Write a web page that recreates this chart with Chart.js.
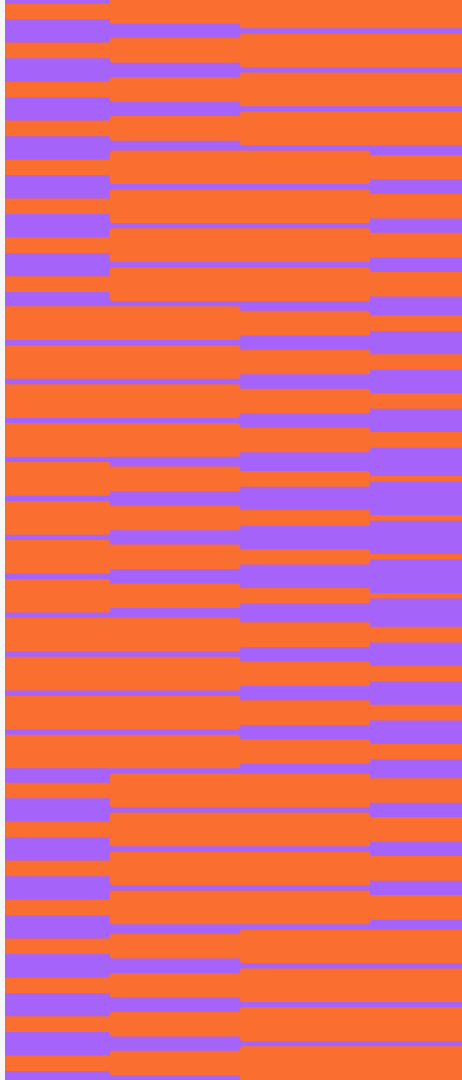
<!DOCTYPE html>
<html>
<head>
<meta charset="utf-8">
<script src="https://cdn.jsdelivr.net/npm/chart.js@4.4.1/dist/chart.umd.min.js"></script>
<style>
  html, body { margin: 0; padding: 0; background: #f7f7f7; overflow: hidden; }
  #wrap { position: absolute; left: 5px; top: 0; width: 457px; height: 1080px; background: rgb(165, 99, 250); }
</style>
</head>
<body>
<div id="wrap"><canvas id="bands"></canvas></div>
<script>
// 4 columns, 28 rows (top to bottom); each value is the band level (1 = thinnest, 4 = thickest)
const columns = ['A', 'B', 'C', 'D'];
const levelsA = [2, 2, 2, 2, 2, 2, 2, 2, 4, 4, 4, 4, 4, 4, 4, 4, 4, 4, 4, 4, 2, 2, 2, 2, 2, 2, 2, 2];
const levelsB = [3, 3, 3, 3, 4, 4, 4, 4, 4, 4, 4, 4, 3, 3, 3, 3, 4, 4, 4, 4, 4, 4, 4, 4, 3, 3, 3, 3];
const levelsC = [4, 4, 4, 4, 4, 4, 4, 4, 3, 3, 3, 3, 2, 2, 2, 2, 3, 3, 3, 3, 4, 4, 4, 4, 4, 4, 4, 4];
const levelsD = [4, 4, 4, 4, 3, 3, 3, 3, 2, 2, 2, 2, 1, 1, 1, 1, 2, 2, 2, 2, 3, 3, 3, 3, 4, 4, 4, 4];
const levels = [1, 2, 3, 4];

// style: bar thickness (px) for each level
const thickness = { 1: 5, 2: 15, 3: 24, 4: 33 };
const orange = 'rgb(250, 110, 48)';

const byColumn = [levelsA, levelsB, levelsC, levelsD];
const rows = levelsA.map((_, i) => i);

// one dataset per level: in each row, a floating bar over the columns having that level
const datasets = levels.map(lv => ({
  label: 'level ' + lv,
  data: rows.map(r => {
    const cols = byColumn.map((arr, c) => arr[r] === lv ? c : -1).filter(c => c >= 0);
    if (!cols.length) return null;
    return { y: r, x: [cols[0], cols[cols.length - 1] + 1] };
  }).filter(d => d),
  backgroundColor: orange,
  borderWidth: 0,
  borderRadius: 3,
  borderSkipped: false,
  barThickness: thickness[lv],
  grouped: false
}));

new Chart(document.getElementById('bands'), {
  type: 'bar',
  data: { datasets: datasets },
  options: {
    indexAxis: 'y',
    responsive: true,
    maintainAspectRatio: false,
    animation: false,
    layout: { padding: 0 },
    plugins: { legend: { display: false }, tooltip: { enabled: false } },
    scales: {
      x: { type: 'linear', min: 0.192, max: 3.708, offset: false, display: false },
      y: { type: 'linear', reverse: true, min: -0.295, max: 27.433, offset: false, grace: 0, display: false }
    }
  }
});
</script>
</body>
</html>
